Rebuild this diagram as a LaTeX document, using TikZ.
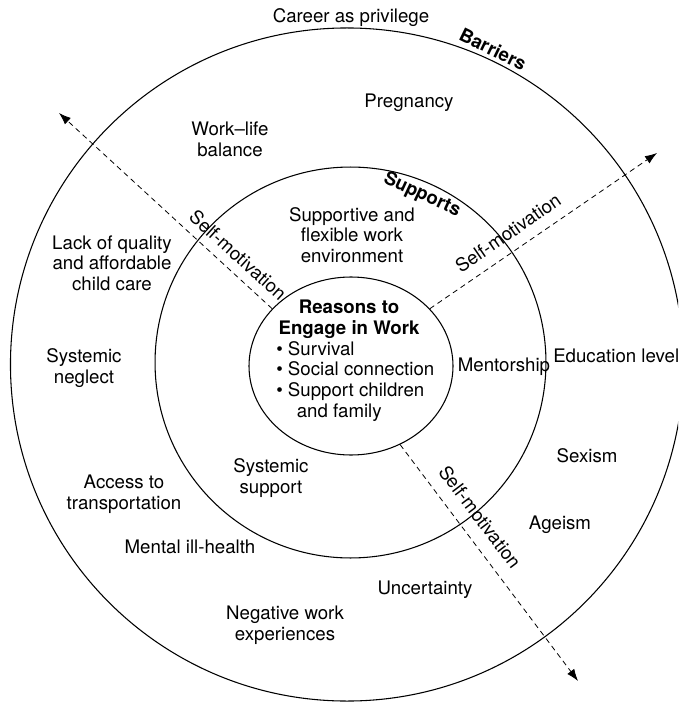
\documentclass[tikz,border=0pt]{standalone}
\usepackage{fontspec}
\setmainfont{TeX Gyre Heros}
\usetikzlibrary{arrows.meta,shapes.geometric}
\begin{document}
\begin{tikzpicture}[x=0.75pt,y=-0.75pt,
  lbl/.style={inner sep=0pt, align=center, font=\fontsize{14}{15.5}\selectfont},
  ttl/.style={inner sep=0pt, align=center, font=\fontsize{14}{15.5}\selectfont\bfseries},
  ringline/.style={draw, line width=0.8pt},
  selfarrow/.style={line width=0.6pt, dash pattern=on 4pt off 3pt, -{Latex[length=9pt,width=6.5pt]}},
]
\useasboundingbox (0,0) rectangle (678,702);
\clip (0,0) rectangle (678,702);

% rings
\draw[ringline] (347,364.5) circle[radius=252.4pt];
\draw[ringline] (350.5,362.5) circle[radius=146.6pt];
\node[ringline, ellipse, inner sep=0pt, minimum width=153pt, minimum height=133.5pt] (core) at (351,366) {};

% arrow tips
\coordinate (tipUL) at (59,113);
\coordinate (tipUR) at (657,153);
\coordinate (tipLR) at (578,681);

\draw[selfarrow] (core.144) -- (tipUL);
\draw[selfarrow] (core.36) -- (tipUR);
\draw[selfarrow] (core.-58) -- (tipLR);

\node[lbl, rotate=-42.1] (smUL) at (238,255) {Self-motivation};
\node[lbl, rotate=34.4] (smUR) at (508,233) {Self-motivation};
\node[lbl, rotate=-53] (smLR) at (480,517) {Self-motivation};

% ring titles
\node[ttl, rotate=-26] (barriers) at (493,49) {Barriers};
\node[ttl, rotate=-25] (supports) at (422,195) {Supports};

% core text
\node[ttl] (reasons) at (349,319) {Reasons to\\Engage in Work};
\node[lbl, align=left, anchor=north west] (list) at (276,341) {• Survival\\• Social connection\\• Support children\\\hspace*{1.1em}and family};

% barriers
\node[lbl] (career) at (351,18) {Career as privilege};
\node[lbl] (preg) at (409,103) {Pregnancy};
\node[lbl] (wlb) at (230,139) {Work–life\\balance};
\node[lbl] (childcare) at (112,263) {Lack of quality\\and affordable\\child care};
\node[lbl] (neglect) at (84,368) {Systemic\\neglect};
\node[lbl] (transport) at (124,494) {Access to\\transportation};
\node[lbl] (mental) at (190,547) {Mental ill-health};
\node[lbl] (negwork) at (285,625) {Negative work\\experiences};
\node[lbl] (uncert) at (425,590) {Uncertainty};
\node[lbl] (ageism) at (560,525) {Ageism};
\node[lbl] (sexism) at (587,456) {Sexism};
\node[lbl, anchor=west] (edu) at (553,356) {Education level};

% supports
\node[lbl] (flex) at (352,235) {Supportive and\\flexible work\\environment};
\node[lbl] (mentor) at (504,367) {Mentorship};
\node[lbl] (syssup) at (271,478) {Systemic\\support};
\end{tikzpicture}
\end{document}
